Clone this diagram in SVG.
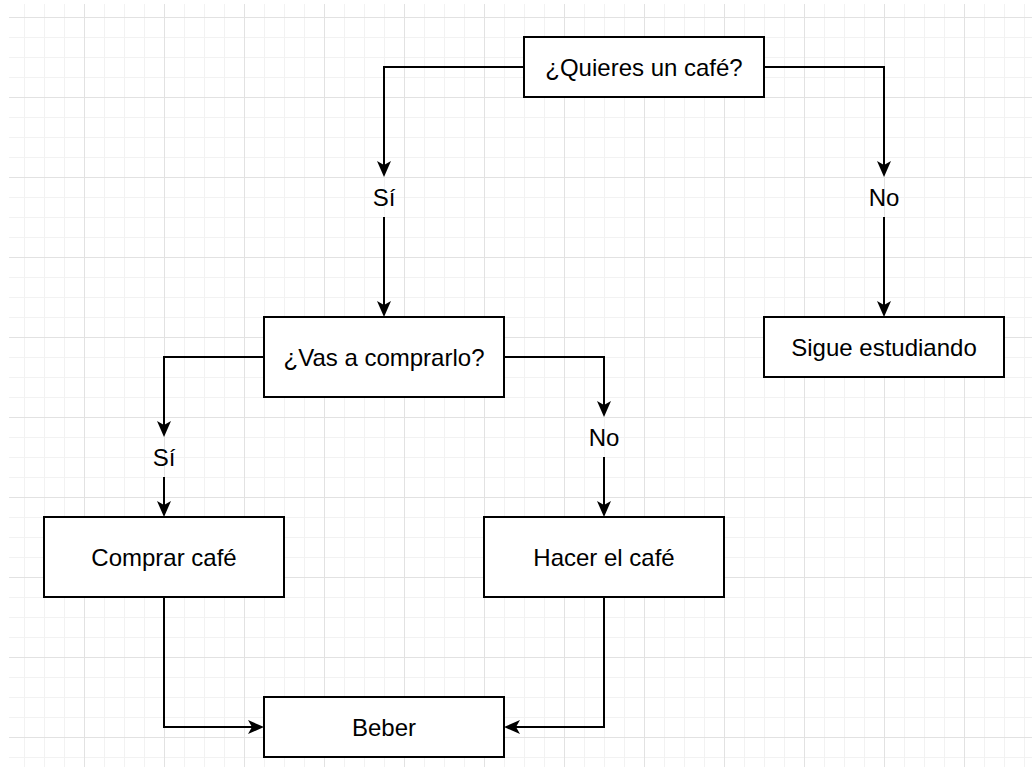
<svg xmlns="http://www.w3.org/2000/svg" width="1032" height="767" viewBox="0 0 1032 767">
  <defs>
    <pattern id="minor" x="4" y="17" width="20" height="20" patternUnits="userSpaceOnUse">
      <path d="M0.5,0 V20 M0,0.5 H20" fill="none" stroke="#f2f2f2" stroke-width="1"/>
    </pattern>
    <pattern id="major" x="4" y="17" width="80" height="80" patternUnits="userSpaceOnUse">
      <path d="M0.5,0 V80 M0,0.5 H80" fill="none" stroke="#e2e2e2" stroke-width="1"/>
    </pattern>
    <marker id="arrow" markerUnits="userSpaceOnUse" viewBox="-14 -8 19 16" refX="0" refY="0" markerWidth="19" markerHeight="16" orient="auto">
      <path d="M4,0 L-12,-7 L-8,0 L-12,7 Z" fill="#000"/>
    </marker>
  </defs>
  <style>
    .box { fill: #ffffff; stroke: #000000; stroke-width: 2; }
    .lbl { font-family: "Liberation Sans", Arial, sans-serif; font-size: 24px; fill: #000000; text-anchor: middle; }
    .edge { fill: none; stroke: #000000; stroke-width: 2; marker-end: url(#arrow); }
  </style>
  <rect x="0" y="0" width="1032" height="767" fill="#ffffff"/>
  <rect x="9" y="4" width="1023" height="763" fill="url(#minor)"/>
  <rect x="9" y="4" width="1023" height="763" fill="url(#major)"/>

  <g id="connectors">
    <path class="edge" d="M524,67 H384 V173"/>
    <path class="edge" d="M384,217 V313"/>
    <path class="edge" d="M764,67 H884 V173"/>
    <path class="edge" d="M884,217 V313"/>
    <path class="edge" d="M264,357 H164 V433"/>
    <path class="edge" d="M164,477 V513"/>
    <path class="edge" d="M504,357 H604 V413"/>
    <path class="edge" d="M604,457 V513"/>
    <path class="edge" d="M164,597 V727 H260"/>
    <path class="edge" d="M604,597 V727 H508"/>
  </g>

  <g id="node-quieres">
    <rect class="box" x="524" y="37" width="240" height="60"/>
    <text class="lbl" x="644" y="75.5">¿Quieres un café?</text>
  </g>
  <g id="node-si-1">
    <text class="lbl" x="384" y="205.5">Sí</text>
  </g>
  <g id="node-no-1">
    <text class="lbl" x="884" y="205.5">No</text>
  </g>
  <g id="node-sigue">
    <rect class="box" x="764" y="317" width="240" height="60"/>
    <text class="lbl" x="884" y="355.5">Sigue estudiando</text>
  </g>
  <g id="node-vas">
    <rect class="box" x="264" y="317" width="240" height="80"/>
    <text class="lbl" x="384" y="365.5">¿Vas a comprarlo?</text>
  </g>
  <g id="node-si-2">
    <text class="lbl" x="164" y="465.5">Sí</text>
  </g>
  <g id="node-no-2">
    <text class="lbl" x="604" y="445.5">No</text>
  </g>
  <g id="node-comprar">
    <rect class="box" x="44" y="517" width="240" height="80"/>
    <text class="lbl" x="164" y="565.5">Comprar café</text>
  </g>
  <g id="node-hacer">
    <rect class="box" x="484" y="517" width="240" height="80"/>
    <text class="lbl" x="604" y="565.5">Hacer el café</text>
  </g>
  <g id="node-beber">
    <rect class="box" x="264" y="697" width="240" height="60"/>
    <text class="lbl" x="384" y="735.5">Beber</text>
  </g>
</svg>
